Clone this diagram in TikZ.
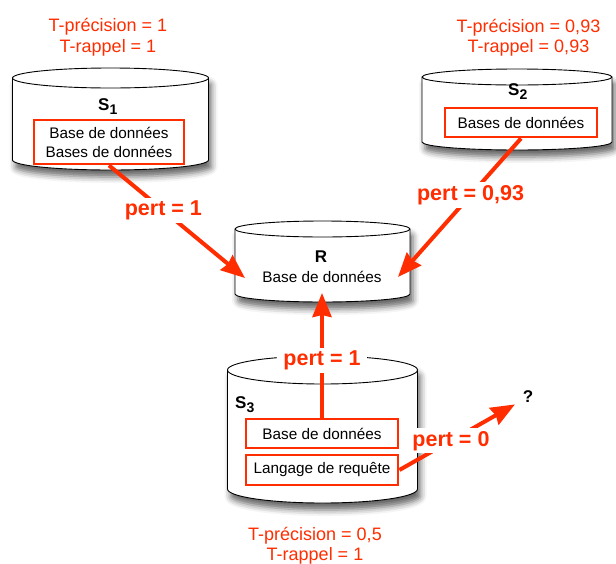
\documentclass[tikz,border=0pt]{standalone}
\usepackage{fontspec}
\setmainfont{Liberation Sans}
\usepackage{xcolor}
\usetikzlibrary{arrows.meta,positioning,shadows.blur}
\definecolor{pertRed}{RGB}{255,45,0}
% database drum: centre x, top y, bottom y, x radius, y radius
\newcommand{\dbdrum}[5]{%
  \path[fill=white, draw=black, line width=0.9pt,
        blur shadow={shadow xshift=3pt, shadow yshift=-7pt, shadow blur radius=6pt, shadow opacity=60}]
    (#1-#4,#2) -- (#1-#4,#3) arc[start angle=180, end angle=0, x radius=#4, y radius=#5]
    -- (#1+#4,#2) arc[start angle=0, end angle=-180, x radius=#4, y radius=#5] -- cycle;
  \draw[line width=0.9pt] (#1+#4,#2) arc[start angle=0, end angle=180, x radius=#4, y radius=#5];
}

\begin{document}
\begin{tikzpicture}[x=1pt, y=-1pt,
    kwbox/.style={rectangle, draw=pertRed, line width=2.8pt, minimum width=150pt, inner sep=0pt, align=center, font=\fontsize{15.3}{19}\selectfont},
    tlabel/.style={anchor=base, text=pertRed, inner sep=0pt, font=\fontsize{18}{21}\selectfont},
    plabel/.style={fill=white, text=pertRed, inner xsep=6pt, inner ysep=3pt, font=\bfseries\fontsize{21.5}{24}\selectfont},
    slabel/.style={anchor=base west, inner sep=0pt, font=\bfseries\fontsize{17}{20}\selectfont},
    pertarrow/.style={-{Stealth[length=24pt, width=19pt, inset=2pt]}, line width=4pt, draw=pertRed}
]
\useasboundingbox (0,0) rectangle (616,563);
% drums
\dbdrum{110.5}{78}{160}{98}{10}
\dbdrum{517}{77}{142}{95}{8}
\dbdrum{322.5}{229}{294}{87.5}{8}
\dbdrum{322.5}{370}{489}{95}{14}
% source S1
\node[tlabel] (s1prec) at (108,31.5) {T-précision = 1};
\node[tlabel] (s1rap) at (108,52) {T-rappel = 1};
\node[slabel] (s1name) at (98,110) {S\raisebox{-4pt}{\fontsize{14}{14}\selectfont 1}};
\node[kwbox, minimum height=44pt] (s1box) at (109,142) {Base de données\\Bases de données};
% source S2
\node[tlabel] (s2prec) at (528.5,32) {T-précision = 0,93};
\node[tlabel] (s2rap) at (528.5,52) {T-rappel = 0,93};
\node[slabel] (s2name) at (508,95) {S\raisebox{-4pt}{\fontsize{14}{14}\selectfont 2}};
\node[kwbox, minimum width=152pt, minimum height=29pt] (s2box) at (521,122.5) {Bases de données};
% reference R
\node[anchor=base, inner sep=0pt, font=\bfseries\fontsize{17}{20}\selectfont] (rname) at (321,262) {R};
\node[anchor=base, inner sep=0pt, font=\fontsize{15.3}{19}\selectfont] (rdb) at (322,282) {Base de données};
\coordinate (rleft) at (245,278);
\coordinate (rright) at (398,277);
\coordinate (rbottom) at (322,293);
% source S3
\node[slabel] (s3name) at (235,408) {S\raisebox{-4pt}{\fontsize{14}{14}\selectfont 3}};
\node[kwbox, minimum width=152pt, minimum height=29pt] (s3db) at (322,433.5) {Base de données};
\node[kwbox, minimum width=152pt, minimum height=30pt] (s3lq) at (322,470) {Langage de requête};
\node[tlabel] (s3prec) at (315,540) {T-précision = 0,5};
\node[tlabel] (s3rap) at (315,560) {T-rappel = 1};
\node[font=\bfseries\fontsize{17}{20}\selectfont] (unk) at (528,397) {?};
% relevance arrows
\draw[pertarrow] (s1box.south) -- (rleft) node[plabel, pos=0.4] (p1) {pert = 1};
\draw[pertarrow] (s2box.south) -- (rright) node[plabel, pos=0.41] (p2) {pert = 0,93};
\draw[pertarrow] (s3db.north) -- (rbottom) node[plabel, pos=0.46] (p3) {pert = 1};
\draw[pertarrow, shorten >=5pt] (s3lq.east) -- (unk) node[plabel, pos=0.43] (p4) {pert = 0};
\end{tikzpicture}
\end{document}
